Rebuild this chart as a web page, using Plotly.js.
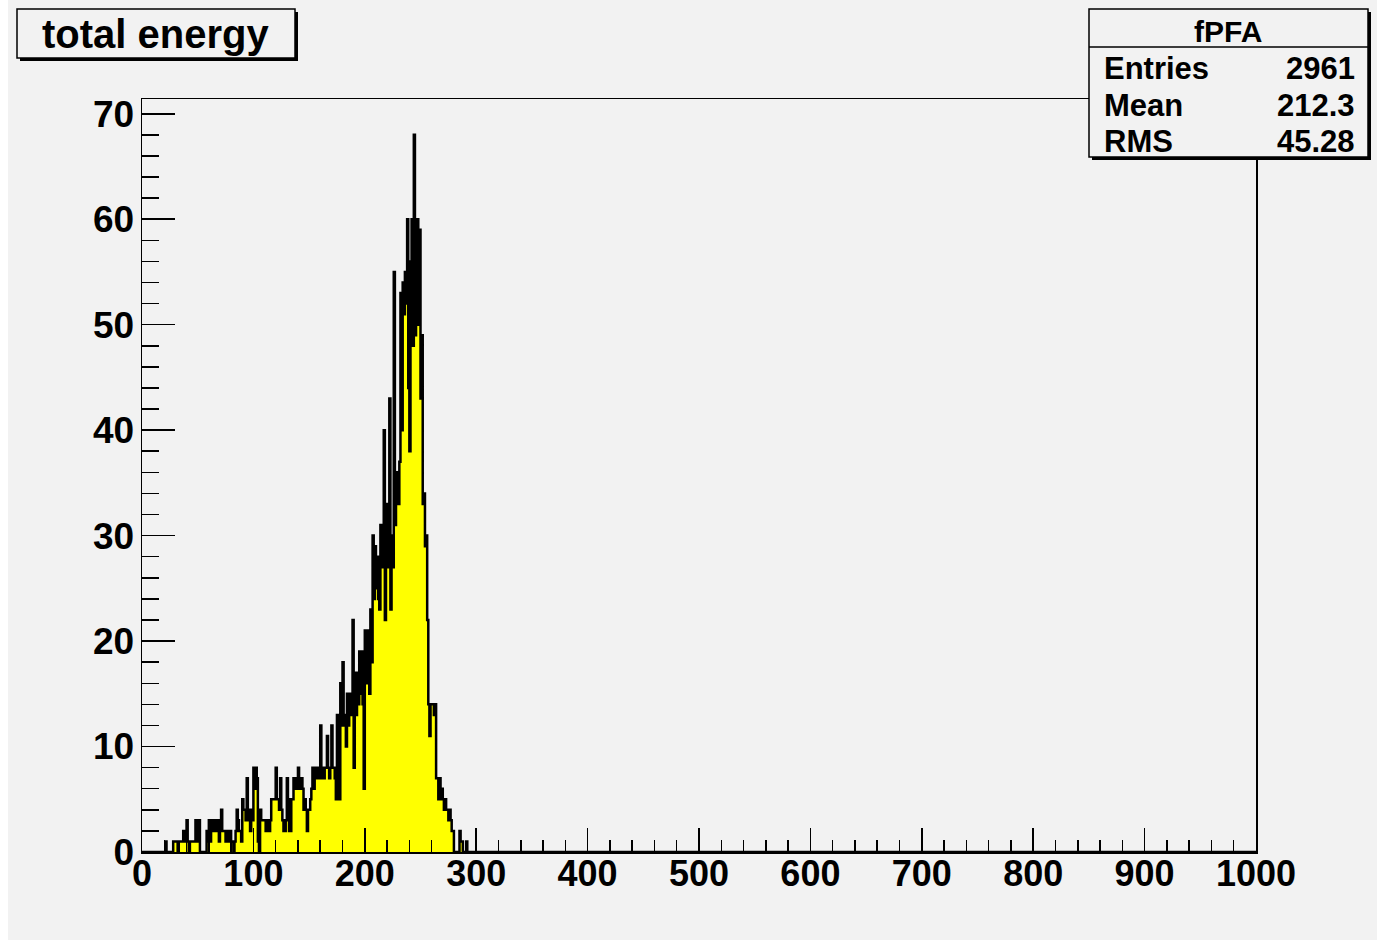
<!DOCTYPE html>
<html>
<head>
<meta charset="utf-8">
<script src="https://cdn.plot.ly/plotly-3.0.1.min.js"></script>
<style>
html,body{margin:0;padding:0;background:#ffffff;width:1377px;height:942px;overflow:hidden;}
#chart{position:absolute;left:8px;top:0;width:1369px;height:940px;}
</style>
</head>
<body>
<div id="chart"></div>
<script>
// ---- data (histogram "fPFA", 1000 bins of width 1 from 0 to 1000) ----
const xMin = 0;
const xMax = 1000;
const binWidth = 1;
const firstBin = 20;            // value of the low edge of counts[0]
const counts = [
  0,1,0,0,0,0,0,0,1,1,
  1,1,0,1,1,1,1,2,1,1,
  3,1,0,1,1,1,1,1,3,1,
  1,3,0,0,0,0,0,0,2,1,
  3,1,3,2,3,2,3,2,3,1,
  2,4,2,2,2,1,2,1,1,2,
  1,1,0,1,2,4,3,2,2,1,
  5,4,4,3,7,4,3,2,4,3,
  8,6,8,7,1,0,4,3,3,3,
  3,2,3,2,2,3,5,5,5,5,
  8,5,5,4,7,4,3,2,2,3,
  7,5,2,2,5,5,7,6,7,6,
  8,6,7,7,6,4,5,4,2,4,
  4,5,6,8,6,8,7,8,7,7,
  12,7,8,7,8,8,11,8,7,8,
  12,8,8,7,5,13,7,5,16,12,
  18,13,12,10,15,12,15,13,15,22,
  8,17,13,17,14,19,15,19,14,6,
  21,16,18,21,15,23,18,30,24,29,
  25,28,24,23,31,27,29,40,22,33,
  30,27,43,23,30,27,55,31,34,36,
  33,37,53,40,54,51,55,52,60,44,
  38,56,60,48,68,49,52,60,50,59,
  43,49,33,34,29,30,22,14,11,14,
  14,14,13,14,7,7,5,7,5,6,
  5,4,5,4,4,3,4,3,2,2,
  0,0,0,0,0,2,1,1,0,0,
  0,1
];
const histTitle = 'total energy';
const statsName = 'fPFA';
const statLabels = ['Entries', 'Mean', 'RMS'];
const statValues = ['2961', '212.3', '45.28'];
const yMax = 71.4;

// ---- build step outline over the full axis ----
const nBins = Math.round((xMax - xMin) / binWidth);
const xs = [], ys = [];
for (let i = 0; i < nBins; i++) {
  const lo = xMin + i * binWidth;
  const j = Math.round((lo - firstBin) / binWidth);
  xs.push(lo);
  ys.push(j >= 0 && j < counts.length ? counts[j] : 0);
}
xs.push(xMax); ys.push(ys[ys.length - 1]);

// ---- page geometry (pixels in the window) ----
const divLeft = 8;
const frameL = 142, frameR = 1256, frameT = 99, frameB = 852;
const px2x = p => (p - frameL) / (frameR - frameL);
const py2y = p => (frameB - p) / (frameB - frameT);

const bg = '#f2f2f2';
const FONT = 'Liberation Sans, Arial, Helvetica, sans-serif';

const shapes = [];
function box(x0, y0, x1, y1, withHeader) {
  shapes.push({type:'rect', xref:'paper', yref:'paper', layer:'above',
    x0:px2x(x0+3), x1:px2x(x1+3), y0:py2y(y1+3), y1:py2y(y0+3),
    fillcolor:'#000', line:{width:0}});
  shapes.push({type:'rect', xref:'paper', yref:'paper', layer:'above',
    x0:px2x(x0), x1:px2x(x1), y0:py2y(y1), y1:py2y(y0),
    fillcolor:bg, line:{color:'#000', width:1.5}});
  if (withHeader !== undefined) {
    shapes.push({type:'line', xref:'paper', yref:'paper', layer:'above',
      x0:px2x(x0), x1:px2x(x1), y0:py2y(withHeader), y1:py2y(withHeader),
      line:{color:'#000', width:1.5}});
  }
}
box(17, 9, 295, 58);
box(1089, 9, 1368, 157, 47);

const annotations = [];
function txt(text, px, py, anchor, size) {
  annotations.push({text:text, xref:'paper', yref:'paper', x:px2x(px), y:py2y(py),
    xanchor:anchor, yanchor:'middle', showarrow:false,
    font:{family:FONT, size:size, color:'#000', weight:'bold'}});
}
txt(histTitle, 155, 34, 'center', 40);
txt(statsName, 1228, 31, 'center', 30);
const rowY = [68, 105, 142];
statLabels.forEach((l, i) => {
  txt(l, 1102, rowY[i], 'left', 31);
  txt(statValues[i], 1357, rowY[i], 'right', 31);
});

const xTickFont = {family:FONT, size:36, color:'#000', weight:'bold'};
const yTickFont = {family:FONT, size:37, color:'#000', weight:'bold'};

const trace = {
  type:'scatter', mode:'lines', x:xs, y:ys,
  line:{shape:'hv', color:'#000', width:2.5, simplify:false},
  fill:'tozeroy', fillcolor:'#ffff00', hoverinfo:'skip'
};

const layout = {
  width:1369, height:940,
  margin:{l:frameL - divLeft, r:1369 - (frameR - divLeft), t:frameT, b:940 - frameB},
  paper_bgcolor:bg, plot_bgcolor:bg,
  showlegend:false,
  xaxis:{range:[xMin, xMax], tickmode:'linear', tick0:0, dtick:100,
    ticks:'inside', ticklen:24, tickwidth:1.5, tickcolor:'#000',
    minor:{tickmode:'linear', tick0:0, dtick:20, ticks:'inside', ticklen:12, tickwidth:1.5, tickcolor:'#000', showgrid:false},
    showline:true, mirror:true, linecolor:'#000', linewidth:1.5,
    showgrid:false, zeroline:false, tickfont:xTickFont, ticklabelstandoff:-11, fixedrange:true},
  yaxis:{range:[0, yMax], tickmode:'linear', tick0:0, dtick:10,
    ticks:'inside', ticklen:33, tickwidth:1.5, tickcolor:'#000',
    minor:{tickmode:'linear', tick0:0, dtick:2, ticks:'inside', ticklen:17, tickwidth:1.5, tickcolor:'#000', showgrid:false},
    showline:true, mirror:true, linecolor:'#000', linewidth:1.5,
    showgrid:false, zeroline:false, tickfont:yTickFont, ticklabelstandoff:-1, fixedrange:true},
  shapes:shapes,
  annotations:annotations
};

Plotly.newPlot('chart', [trace], layout, {displayModeBar:false, staticPlot:true});
</script>
</body>
</html>
